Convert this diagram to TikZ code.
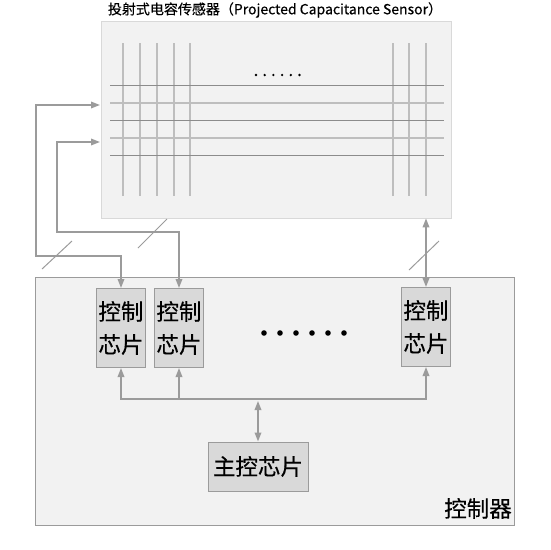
\documentclass[tikz,border=0pt]{standalone}
\usepackage{fontspec}
\setmainfont{Noto Sans CJK SC}[FakeBold=0.4]
\usetikzlibrary{arrows.meta, positioning}
\definecolor{wirecol}{RGB}{155,155,155}
\definecolor{panel}{RGB}{242,242,242}
\definecolor{chipfill}{RGB}{217,217,217}
\definecolor{gridlight}{RGB}{190,190,190}
\definecolor{griddark}{RGB}{140,140,140}
\tikzset{
  wire/.style={draw=wirecol, line width=1.7pt},
  slash/.style={draw=wirecol, line width=1pt},
  chip/.style={draw=wirecol, fill=chipfill, line width=1pt, minimum width=49pt, minimum height=79pt, inner sep=0pt, align=center, font=\fontsize{22.5}{33}\selectfont, anchor=north west},
}

\begin{document}
\begin{tikzpicture}[x=1pt, y=-1pt, >={Triangle[width=6.5pt,length=9pt]}]
    \useasboundingbox (0,0) rectangle (550,550);
    % sensor panel
    \node (title) at (275,10) {\fontsize{14}{16}\selectfont 投射式电容传感器（Projected Capacitance Sensor）};
    \node[draw=black!15, fill=panel, minimum width=350pt, minimum height=197pt, inner sep=0pt, anchor=north west] (sensor) at (101,21) {};
    \foreach \x in {123,140,157,174,190,393,409,426}
        \draw[gridlight, line width=1.5pt] (\x,43) -- (\x,196);
    \foreach \y in {85,120,155}
        \draw[griddark, line width=0.8pt] (110,\y) -- (444,\y);
    \foreach \y in {103,138}
        \draw[gridlight, line width=1.5pt] (110,\y) -- (444,\y);
    \foreach \i in {0,...,5}
        \fill (256+\i*8.7,75) circle (1.3pt);
    % controller
    \node[draw=wirecol, fill=panel, line width=1pt, minimum width=479pt, minimum height=248pt, inner sep=0pt, anchor=north west] (ctrl) at (35,277) {};
    \node[anchor=south east, inner sep=0pt, font=\fontsize{22.5}{26}\selectfont] (ctrllabel) at (512,519) {控制器};
    \node[chip] (chipA) at (96,288) {控制\\芯片};
    \node[chip] (chipB) at (154,288) {控制\\芯片};
    \node[chip] (chipC) at (401,287) {控制\\芯片};
    \foreach \i in {0,...,5}
        \fill (264+\i*16,333) circle (2.8pt);
    \node[draw=wirecol, fill=chipfill, line width=1pt, minimum width=100pt, minimum height=49pt, inner sep=0pt, font=\fontsize{22.5}{26}\selectfont] (mainchip) at (258,466.5) {主控芯片};
    % sensor links
    \coordinate (portA) at (100,105);
    \coordinate (portB) at (100,142);
    \draw[wire, <->] (portA) -| (36,256) -| (chipA.north);
    \draw[wire, <->] (portB) -| (57,232) -| (chipB.north);
    \draw[wire, <->] (sensor.south -| chipC.north) -- (chipC.north);
    \draw[slash] (42,269) -- (72,241);
    \draw[slash] (138,248) -- (167,219);
    \draw[slash] (409,270) -- (439,241);
    % bus
    \coordinate (bus) at (0,399);
    \draw[wire, <->] (chipA.south) -- (chipA.south |- bus) -- (chipC.south |- bus) -- (chipC.south);
    \draw[wire, ->] (chipB.south |- bus) -- (chipB.south);
    \draw[wire, <->] (mainchip.north |- 0,401) -- (mainchip.north);
\end{tikzpicture}
\end{document}
